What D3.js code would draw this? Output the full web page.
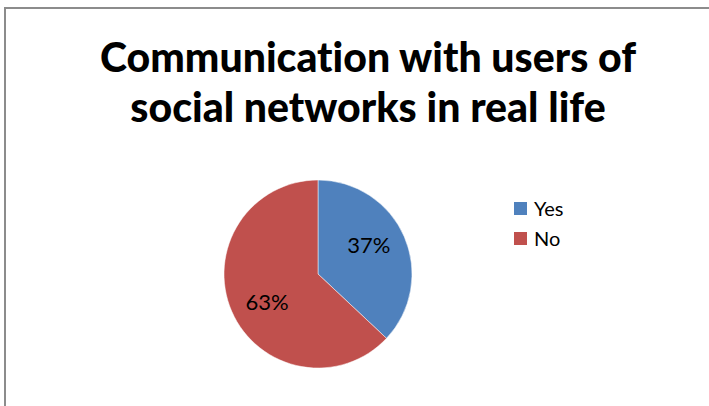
<!DOCTYPE html>
<html>
<head>
<meta charset="utf-8">
<script src="https://cdn.jsdelivr.net/npm/d3@7"></script>
<style>
  html, body { margin: 0; padding: 0; background: #fff; }
  svg { display: block; }
  text { font-family: Lato, "Open Sans", sans-serif; fill: #000; font-variant-ligatures: none; }
</style>
</head>
<body>
<div id="graphics"></div>
<script>
const categories = ['Yes', 'No'];
const values = [37, 63];
const colors = ['#4F81BD', '#C0504D'];
const titleLines = ['Communication with users of', 'social networks in real life'];

const width = 709;
const height = 406;

const svg = d3.select('#graphics')
  .append('svg')
  .attr('width', width)
  .attr('height', height);

// chart frame, runs off the right and bottom edges
svg.append('rect')
  .attr('x', 5)
  .attr('y', 8)
  .attr('width', 720)
  .attr('height', 420)
  .attr('fill', '#fff')
  .attr('stroke', '#8c8c8c')
  .attr('stroke-width', 2);

// title
svg.append('text')
  .attr('class', 'title')
  .attr('text-anchor', 'middle')
  .attr('font-size', 41)
  .attr('font-weight', 900)
  .selectAll('tspan')
  .data(titleLines)
  .join('tspan')
  .attr('x', 368)
  .attr('y', (d, i) => 72 + i * 50)
  .text(d => d);

// pie
const cx = 318, cy = 274, r = 94;
const color = d3.scaleOrdinal().domain(categories).range(colors);

const pie = d3.pie()
  .value(d => d.value)
  .sort(null);

const data = categories.map((c, i) => ({ name: c, value: values[i] }));
const arcs = pie(data);

const arc = d3.arc().innerRadius(0).outerRadius(r);

const g = svg.append('g').attr('transform', 'translate(' + cx + ',' + cy + ')');

g.selectAll('path')
  .data(arcs)
  .join('path')
  .attr('d', arc)
  .attr('fill', d => color(d.data.name))
  .attr('stroke', '#fff')
  .attr('stroke-width', 0.5);

// labels sit a little counter-clockwise of the slice middle, like the original
const total = d3.sum(values);
g.selectAll('.label')
  .data(arcs)
  .join('text')
  .attr('class', 'label')
  .attr('transform', d => 'translate(' + d3.pointRadial((d.startAngle + d.endAngle) / 2 - 0.1, r * 0.62) + ')')
  .attr('text-anchor', 'middle')
  .attr('dy', '0.35em')
  .attr('font-size', 22)
  .text(d => Math.round(d.data.value / total * 100) + '%');

// legend
const legend = svg.append('g').attr('transform', 'translate(514,202)');
const item = legend.selectAll('g')
  .data(categories)
  .join('g')
  .attr('transform', (d, i) => 'translate(0,' + i * 30 + ')');

item.append('rect')
  .attr('width', 13)
  .attr('height', 13)
  .attr('fill', d => color(d));

item.append('text')
  .attr('x', 20)
  .attr('y', 6.5)
  .attr('dy', '0.35em')
  .attr('font-size', 20)
  .text(d => d);
</script>
</body>
</html>
